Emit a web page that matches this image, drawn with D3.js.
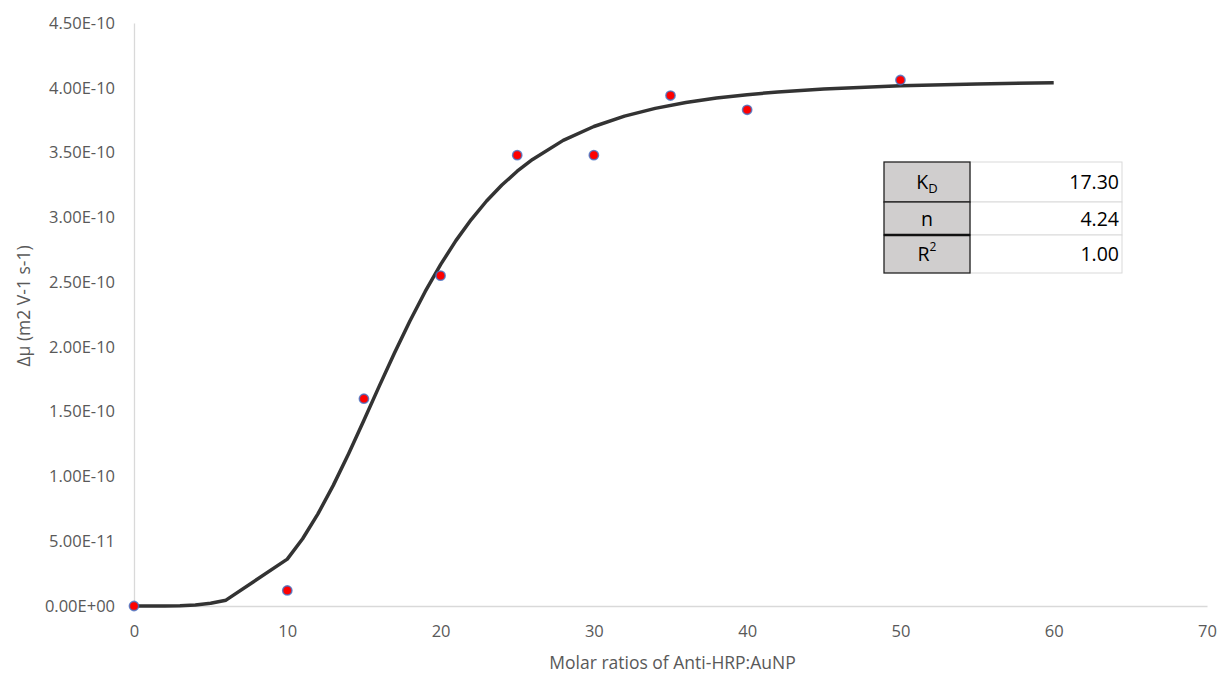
<!DOCTYPE html>
<html>
<head>
<meta charset="utf-8">
<script src="https://cdn.jsdelivr.net/npm/d3@7"></script>
<style>
  body { margin: 0; background: #fff; }
  svg { font-family: "Open Sans", sans-serif; }
</style>
</head>
<body>
<div class="chart"></div>
<script>
// measured points
const ratios = [0, 10, 15, 20, 25, 30, 35, 40, 50];
const mobility = [0, 1.2e-11, 1.6e-10, 2.55e-10, 3.48e-10, 3.48e-10, 3.94e-10, 3.83e-10, 4.06e-10];

// fitted curve
const fitX = [0, 1, 2, 3, 4, 5, 6, 10, 11, 12, 13, 14, 15, 16, 17, 18, 19, 20, 21, 22, 23, 24, 25, 26, 28, 30, 32, 34, 36, 38, 40, 42, 45, 50, 55, 60];
const fitY = [0, 0, 0.4e-13, 2.4e-13, 8.2e-13, 2.1e-12, 4.5e-12, 3.62e-11, 5.19e-11, 7.11e-11, 9.31e-11, 1.176e-10, 1.434e-10, 1.697e-10, 1.955e-10, 2.2e-10, 2.428e-10, 2.635e-10, 2.82e-10, 2.983e-10, 3.126e-10, 3.249e-10, 3.356e-10, 3.447e-10, 3.594e-10, 3.701e-10, 3.781e-10, 3.841e-10, 3.886e-10, 3.921e-10, 3.947e-10, 3.968e-10, 3.991e-10, 4.015e-10, 4.03e-10, 4.039e-10];

const xTicks = [0, 10, 20, 30, 40, 50, 60, 70];
const yTicks = [0, 5e-11, 1e-10, 1.5e-10, 2e-10, 2.5e-10, 3e-10, 3.5e-10, 4e-10, 4.5e-10];
const yTickLabels = ["0.00E+00", "5.00E-11", "1.00E-10", "1.50E-10", "2.00E-10", "2.50E-10", "3.00E-10", "3.50E-10", "4.00E-10", "4.50E-10"];

const tableLabels = ["K", "n", "R"];
const tableSub = ["D", "", ""];
const tableSup = ["", "", "2"];
const tableValues = ["17.30", "4.24", "1.00"];

const W = 1221, H = 675;
const margin = { top: 23, left: 134, right: 14, bottom: 69 };
const width = W - margin.left - margin.right;
const height = H - margin.top - margin.bottom;

const svg = d3.select(".chart").append("svg")
  .attr("width", W).attr("height", H);

const g = svg.append("g")
  .attr("transform", `translate(${margin.left}, ${margin.top})`);

const x = d3.scaleLinear().domain([0, 70]).range([0, width]);
const y = d3.scaleLinear().domain([0, 4.5e-10]).range([height, 0]);

// axes
const xAxis = g.append("g")
  .attr("transform", `translate(0, ${height})`)
  .call(d3.axisBottom(x).tickValues(xTicks).tickSize(0).tickPadding(19));
const yAxis = g.append("g")
  .call(d3.axisLeft(y).tickValues(yTicks).tickSize(0).tickPadding(19)
    .tickFormat((d, i) => yTickLabels[i]));

[xAxis, yAxis].forEach(a => {
  a.select(".domain").attr("stroke", "#d9d9d9").attr("stroke-width", 1.3);
  a.selectAll("text").attr("fill", "#595959").style("font-size", "16.5px")
    .style("font-family", "'Open Sans', sans-serif");
});

// axis titles
svg.append("text")
  .attr("x", margin.left + x(35) + 2).attr("y", 669)
  .attr("text-anchor", "middle").attr("fill", "#595959")
  .style("font-size", "17.5px")
  .text("Molar ratios of Anti-HRP:AuNP");

svg.append("text")
  .attr("transform", "translate(30, 306) rotate(-90)")
  .attr("text-anchor", "middle").attr("fill", "#595959")
  .style("font-size", "17.5px")
  .text("Δμ (m2 V-1 s-1)");

// fitted line
const fit = fitX.map((d, i) => ({ x: d, y: fitY[i] }));
g.append("path")
  .datum(fit)
  .attr("fill", "none")
  .attr("stroke", "#333333")
  .attr("stroke-width", 3.5)
  .attr("stroke-linejoin", "round")
  .attr("d", d3.line().x(d => x(d.x)).y(d => y(d.y)));

// data points
g.selectAll(".pt")
  .data(ratios.map((d, i) => ({ x: d, y: mobility[i] })))
  .enter().append("circle")
  .attr("class", "pt")
  .attr("cx", d => x(d.x))
  .attr("cy", d => y(d.y))
  .attr("r", 4.6)
  .attr("fill", "#ff0000")
  .attr("stroke", "#4472c4")
  .attr("stroke-opacity", 0.8)
  .attr("stroke-width", 1.6);

// parameter table
const tbl = svg.append("g").attr("transform", "translate(884, 162)");
const rowY = [0, 40, 73, 111];
const colX = [0, 86, 238];

tableValues.forEach((v, i) => {
  tbl.append("rect")
    .attr("x", colX[1]).attr("y", rowY[i])
    .attr("width", colX[2] - colX[1]).attr("height", rowY[i + 1] - rowY[i])
    .attr("fill", "#fff").attr("stroke", "#d9d9d9").attr("stroke-width", 1);
});
tableValues.forEach((v, i) => {
  tbl.append("rect")
    .attr("x", colX[0]).attr("y", rowY[i])
    .attr("width", colX[1] - colX[0]).attr("height", rowY[i + 1] - rowY[i])
    .attr("fill", "#d0cece").attr("stroke", "#222").attr("stroke-width", 1.3);
});
tbl.append("line")
  .attr("x1", 0).attr("x2", colX[1]).attr("y1", rowY[2]).attr("y2", rowY[2])
  .attr("stroke", "#111").attr("stroke-width", 2.5);

tableValues.forEach((v, i) => {
  const cy = (rowY[i] + rowY[i + 1]) / 2 + 7;
  const t = tbl.append("text")
    .attr("x", colX[1] / 2).attr("y", cy)
    .attr("text-anchor", "middle").attr("fill", "#000")
    .style("font-size", "19.5px")
    .text(tableLabels[i]);
  if (tableSub[i]) t.append("tspan").attr("dy", 4).style("font-size", "13px").text(tableSub[i]);
  if (tableSup[i]) t.append("tspan").attr("dy", -10).style("font-size", "12px").text(tableSup[i]);
  tbl.append("text")
    .attr("x", colX[2] - 3).attr("y", cy)
    .attr("text-anchor", "end").attr("fill", "#000")
    .style("font-size", "19.5px")
    .text(v);
});
</script>
</body>
</html>
